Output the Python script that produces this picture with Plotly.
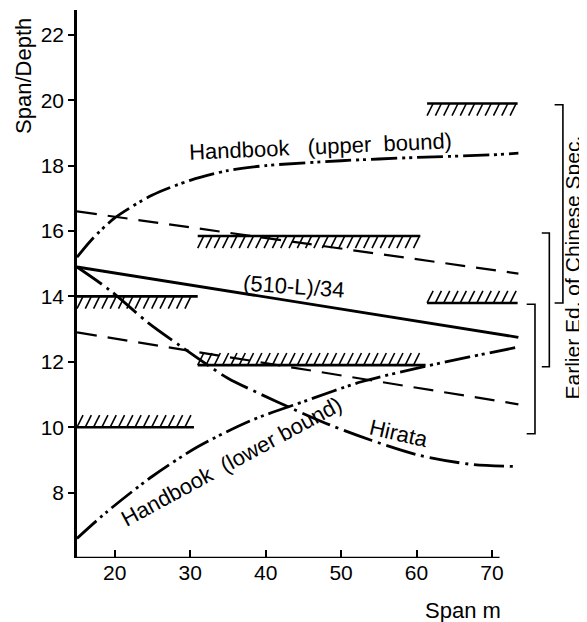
import numpy as np
import plotly.graph_objects as go

# ---------------- data ----------------
line_x = [15, 73.5]
formula_y = [14.9, 12.75]          # (510-L)/34 solid line
dash_upper_y = [16.6, 14.7]        # upper dashed line
dash_lower_y = [12.9, 10.7]        # lower dashed line

hb_upper_x = [15, 17, 20, 25, 30, 35, 40, 50, 60, 70, 73.5]
hb_upper_y = [15.2, 15.75, 16.4, 17.1, 17.55, 17.85, 18.0, 18.15, 18.25, 18.33, 18.38]

hb_lower_x = [15, 19, 25, 31, 38, 45, 52.7, 61, 67, 73.5]
hb_lower_y = [6.6, 7.42, 8.5, 9.4, 10.2, 10.78, 11.39, 11.85, 12.15, 12.45]

hirata_x = [15, 19.3, 24.4, 28.6, 32, 35, 41.5, 48.5, 54, 60.4, 67.4, 73.5]
hirata_y = [14.9, 14.2, 13.2, 12.5, 11.95, 11.5, 10.78, 10.07, 9.6, 9.14, 8.86, 8.8]

# limit bars of earlier edition of Chinese spec: (x start, x end, y, hatch side)
bar_x0 = [15, 15, 31, 31, 61.4, 61.4]
bar_x1 = [30.5, 31, 61.2, 60.5, 73.4, 73.4]
bar_y = [10.0, 14.0, 11.9, 15.85, 13.8, 19.9]
bar_side = [1, -1, 1, -1, 1, -1]   # +1 hatch above (lower limit), -1 hatch below (upper limit)

# brackets at right: (y top, y bottom)
brk_top = [13.76, 15.94, 19.86]
brk_bot = [9.8, 11.85, 13.8]

x_ticks = [20, 30, 40, 50, 60, 70]
y_ticks = [8, 10, 12, 14, 16, 18, 20, 22]

FONT = "Liberation Sans, Arial, Helvetica, sans-serif"

fig = go.Figure()

# hatch strokes derived from bar extents
dx, h, sp = 0.8, 0.37, 1.1
hx, hy = [], []
for x0, x1, y, s in zip(bar_x0, bar_x1, bar_y, bar_side):
    if s > 0:
        for xs in np.arange(x0, x1 - dx + 0.01, sp):
            hx += [xs, xs + dx, None]
            hy += [y, y + h, None]
    else:
        for xs in np.arange(x0 + dx, x1 + 0.01, sp):
            hx += [xs - dx, xs, None]
            hy += [y - h, y, None]
fig.add_trace(go.Scatter(x=hx, y=hy, mode="lines", line=dict(color="black", width=1.6),
                         hoverinfo="skip", showlegend=False))

# limit lines
for x0, x1, y in zip(bar_x0, bar_x1, bar_y):
    fig.add_trace(go.Scatter(x=[x0, x1], y=[y, y], mode="lines",
                             line=dict(color="black", width=2.6), showlegend=False))

def add_line(x, y, dash, width=2.6, shape="spline"):
    fig.add_trace(go.Scatter(x=x, y=y, mode="lines",
                             line=dict(color="black", width=width, dash=dash, shape=shape, smoothing=0.8),
                             showlegend=False))

add_line(line_x, formula_y, "solid", 2.8, "linear")
add_line(line_x, dash_upper_y, "20px,11px", 2.2, "linear")
add_line(line_x, dash_lower_y, "20px,11px", 2.2, "linear")
add_line(hb_upper_x, hb_upper_y, "26px,5px,3px,4px,3px,5px", 2.8)
add_line(hb_lower_x, hb_lower_y, "26px,5px,3px,4px,3px,5px", 2.8)
add_line(hirata_x, hirata_y, "30px,6px,3px,6px", 2.8)

# brackets
shapes = []
for yt, yb, xv, xt in zip(brk_top, brk_bot, [75.7, 77.6, 79.4], [74.6, 76.6, 78.3]):
    shapes.append(dict(type="path", xref="x", yref="y",
                       path=f"M {xt},{yt} L {xv},{yt} L {xv},{yb} L {xt},{yb}",
                       line=dict(color="black", width=1.6)))
# x axis line (shorter than plot area)
shapes.append(dict(type="line", xref="x", yref="y", x0=15, x1=71, y0=6, y1=6,
                   line=dict(color="black", width=2.6)))

ann_font = dict(family=FONT, size=22, color="black")
def ann(x, y, text, angle=0, ref="x", size=22):
    return dict(x=x, y=y, xref=ref if ref == "x" else "paper", yref="y" if ref == "x" else "paper",
                text=text, showarrow=False, textangle=angle,
                font=dict(family=FONT, size=size, color="black"),
                xanchor="center", yanchor="middle")

# plot area in figure px: x 69..570 (501 px), y 2..550 (548 px)
annotations = [
    ann(47.3, 18.6, "Handbook\u00a0\u00a0\u00a0(upper\u00a0\u00a0bound)", -2.5),
    ann(43.74, 14.29, "(510-L)/34", 4),
    ann(35.5, 8.95, "Handbook\u00a0\u00a0(lower bound)", -28.5),
    ann(57.65, 9.8, "Hirata", 13),
    ann(-0.1058, 0.8796, "Span/Depth", -90, ref="paper"),
    ann(0.770, -0.0949, "Span m", 0, ref="paper"),
    ann(0.989, 0.531, "Earlier Ed. of Chinese Spec.", -90, ref="paper", size=21),
]

fig.update_layout(
    width=579, height=614,
    margin=dict(l=69, r=9, t=2, b=64),
    paper_bgcolor="white", plot_bgcolor="white",
    shapes=shapes, annotations=annotations,
    showlegend=False,
    xaxis=dict(range=[15, 81.4], tickvals=x_ticks, ticktext=[str(v) for v in x_ticks],
               showgrid=False, zeroline=False, showline=False,
               ticks="inside", ticklen=8, tickwidth=1.6, tickcolor="black",
               tickfont=dict(family=FONT, size=21, color="black")),
    yaxis=dict(range=[6, 22.76], tickvals=y_ticks, ticktext=[str(v) for v in y_ticks],
               showgrid=False, zeroline=False, showline=True, linecolor="black", linewidth=2.6,
               ticks="outside", ticklen=6, tickwidth=1.6, tickcolor="black",
               tickfont=dict(family=FONT, size=21, color="black")),
)

fig.write_html("out.html")
